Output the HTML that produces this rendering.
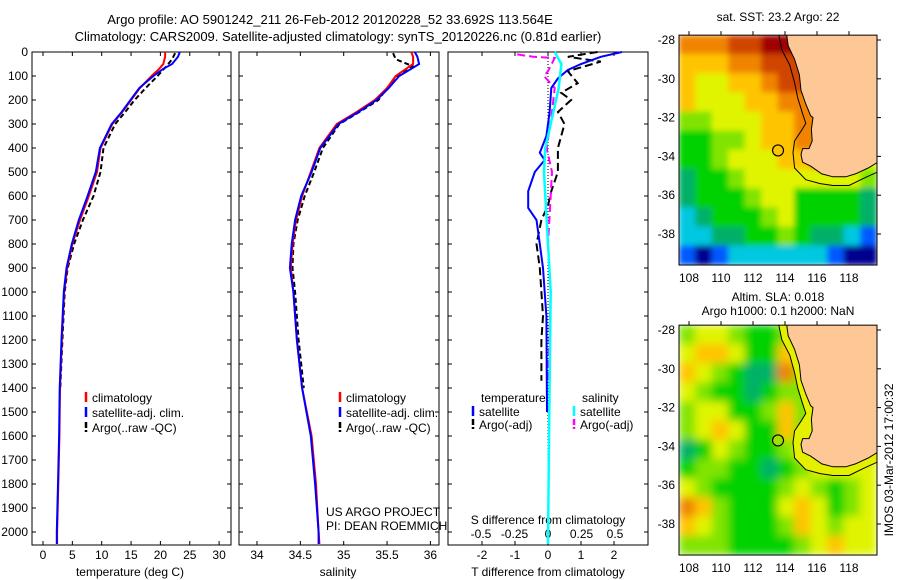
<!DOCTYPE html>
<html><head><meta charset="utf-8"><style>
html,body{margin:0;padding:0;background:#fff;}
svg{display:block;font-family:"Liberation Sans",sans-serif;}
text{font-size:12px;fill:#000;}
</style></head><body>
<svg id="fig" width="900" height="580" viewBox="0 0 900 580" xmlns="http://www.w3.org/2000/svg">
<text x="330" y="24" text-anchor="middle" style="font-size:13px">Argo profile: AO 5901242_211 26-Feb-2012 20120228_52 33.692S 113.564E</text>
<text x="338" y="41" text-anchor="middle" style="font-size:13px">Climatology: CARS2009. Satellite-adjusted climatology: synTS_20120226.nc (0.81d earlier)</text>
<text x="130" y="576" text-anchor="middle">temperature (deg C)</text>
<text x="338" y="576" text-anchor="middle">salinity</text>
<text x="548" y="576" text-anchor="middle">T difference from climatology</text>
<text x="548" y="524" text-anchor="middle">S difference from climatology</text>
<text x="326" y="516">US ARGO PROJECT</text>
<text x="326" y="530">PI: DEAN ROEMMICH</text>
<text x="778" y="21" text-anchor="middle">sat. SST: 23.2 Argo: 22</text>
<text x="778" y="301" text-anchor="middle">Altim. SLA: 0.018</text>
<text x="778" y="315" text-anchor="middle">Argo h1000: 0.1 h2000: NaN</text>
<text transform="translate(893,460) rotate(-90)" text-anchor="middle">IMOS 03-Mar-2012 17:00:32</text>
</svg>
<script>
// ---------- data ----------
const depthClim = [0,20,50,70,100,150,200,250,300,400,500,600,700,800,900,1000,1200,1400,1600,1800,2000,2050];
const tempClim  = [20.8,20.8,20.5,19.8,18.5,16.5,15,13.5,11.8,9.8,9.2,7.8,6.3,5.0,4.1,3.6,3.2,2.9,2.8,2.6,2.4,2.4];
const tempSat   = [23.3,23,22,20.5,18.8,16.4,14.9,13.4,11.7,9.7,9.0,7.6,6.1,4.9,4.0,3.55,3.15,2.85,2.75,2.55,2.35,2.35];
const salClim   = [35.78,35.8,35.8,35.72,35.6,35.5,35.36,35.15,34.92,34.72,34.62,34.52,34.45,34.41,34.39,34.42,34.46,34.52,34.63,34.68,34.71,34.72];
const salSat    = [35.82,35.85,35.87,35.78,35.64,35.52,35.38,35.17,34.94,34.73,34.63,34.51,34.44,34.40,34.38,34.42,34.46,34.52,34.62,34.67,34.71,34.71];
const depthArgo = [5,30,60,100,150,200,250,300,400,500,600,700,800,900,1000,1200,1400];
const tempArgo  = [22.5,22,21,19.5,17.5,15.6,14,12.3,10.3,9.8,8.6,6.8,5.3,4.2,3.7,3.3,2.95];
const salArgo   = [35.57,35.6,35.8,35.62,35.5,35.4,35.18,34.95,34.76,34.66,34.55,34.47,34.42,34.41,34.44,34.48,34.54];
const depthDT   = [0,20,50,75,110,150,250,350,420,450,500,580,650,700,800,900,1100,1500];
const dTsat     = [2.24,1.6,1.0,0.6,0.3,0.1,0.05,-0.05,-0.25,-0.1,-0.4,-0.6,-0.6,-0.35,-0.25,-0.15,-0.05,-0.03];
const depthDA   = [0,20,40,80,130,170,200,250,300,400,500,580,640,700,800,900,1000,1100,1200,1300,1370];
const dTargo    = [1.5,0.6,1.6,0.6,0.9,0.4,0.7,0.3,0.5,0.3,0.3,0.1,0.0,-0.2,-0.35,-0.25,-0.2,-0.15,-0.2,-0.2,-0.2];
const depthDS   = [0,50,150,300,400,500,600,800,1000,1500,2050];
const dSsat     = [0.05,0.1,0.08,0.02,-0.02,-0.03,-0.02,0,0.02,0.01,0];
const depthDSA  = [10,20,25,80,100,150,250,400,500,600,800,1000,1200,1370];
const dSargo    = [-0.23,-0.11,0.05,0.0,-0.03,0.05,0.03,-0.01,0.03,0.02,0.0,0.02,0.01,0.0];
const depthTicks = [0,100,200,300,400,500,600,700,800,900,1000,1100,1200,1300,1400,1500,1600,1700,1800,1900,2000];
const tempTicks = [0,5,10,15,20,25,30];
const salTicks = [34,34.5,35,35.5,36];
const salTickLabels = ['34','34.5','35','35.5','36'];
const dTTicks = [-2,-1,0,1,2];
const dSTicks = [-0.5,-0.25,0,0.25,0.5];
const dSTickLabels = ['-0.5','-0.25','0','0.25','0.5'];
const mapLatTicks = [-28,-30,-32,-34,-36,-38];
const mapLonTicks = [108,110,112,114,116,118];
const sstGrid = [
 [8,8,8,9,9,10,10,9,9,9,9,9],
 [7,7,7,8,8,9,9,9,9,9,9,9],
 [7,6,6,7,7,8,9,9,9,9,9,9],
 [7,6,6,6,7,7,8,8,8,8,8,8],
 [5,5,6,6,6,7,7,8,8,8,8,8],
 [4,4,5,5,6,7,7,8,8,8,8,8],
 [4,4,5,6,6,6,7,7,8,6,6,6],
 [3,4,4,5,6,6,6,6,6,6,6,5],
 [3,4,4,4,5,6,6,4,4,4,4,3],
 [2,3,4,4,4,5,6,4,4,4,4,3],
 [2,2,3,3,4,4,5,4,3,3,2,1],
 [1,0,1,2,2,2,2,2,2,1,0,0]];
const slaGrid = [
 [5,6,6,5,4,4,5,6,6,6,6,6],
 [6,7,7,6,4,4,7,6,6,6,6,6],
 [7,6,5,4,3,3,8,5,6,6,6,6],
 [6,5,4,4,3,4,5,5,6,6,6,6],
 [5,6,6,4,4,5,7,5,6,6,6,6],
 [5,6,7,6,4,4,7,5,6,6,6,6],
 [3,4,6,5,4,4,5,6,6,6,6,6],
 [4,5,5,4,4,3,4,5,6,6,6,6],
 [6,5,4,4,4,4,5,6,5,4,5,6],
 [8,7,5,4,4,4,6,7,6,4,5,6],
 [7,6,5,4,4,4,5,7,6,5,6,6],
 [5,5,5,4,4,4,4,5,6,7,6,6]];
const coastLon = [114.1,114.2,114.6,114.9,115.0,115.3,115.6,115.75,115.65,115.7,115.5,115.1,115.0,115.1,115.6,116.3,117,117.8,118.4,119.2,119.8,119.8];
const coastLat = [-27.7,-28.3,-29,-29.8,-30.6,-31.3,-31.9,-32.0,-32.6,-33.2,-33.6,-33.6,-33.9,-34.3,-34.5,-34.9,-35.05,-35.05,-34.9,-34.6,-34.3,-27.7];
const isoLon = [113.6,113.8,114.3,114.6,114.8,115.1,115.3,115.0,114.6,114.5,114.6,115.3,116.2,117,118,119,119.8];
const isoLat = [-27.7,-28.5,-29.3,-30.2,-31.0,-31.8,-32.3,-32.7,-33.2,-33.8,-34.6,-35.2,-35.4,-35.5,-35.5,-35.1,-34.8];
const argoLon = 113.564, argoLat = -33.692;

// ---------- scales ----------
const yD = d => 52 + d*0.24;
const xT = t => 43 + t*5.87;
const xS = s => 257 + (s-34)*86.7;
const xdT = v => 548 + v*33;
const xdS = v => 548 + v*134;
const mx = lon => 689 + (lon-108)*16;
const myA = lat => 40 + (-28-lat)*19.4;
const myB = lat => 330 + (-28-lat)*19.4;
const cmap = ['#000090','#0058ff','#00c8e0','#00b068','#00d200','#80e400','#e0f400','#ffc400','#f08400','#d04400','#a00000'];

const NS = 'http://www.w3.org/2000/svg';
const svg = document.getElementById('fig');
function mk(tag, attrs, parent){ const e=document.createElementNS(NS,tag); for(const k in attrs) e.setAttribute(k,attrs[k]); (parent||svg).appendChild(e); return e; }
function pts(xs, ys, fx, fy){ return xs.map((v,i)=>fx(v).toFixed(1)+','+fy(ys[i]).toFixed(1)).join(' '); }

// panels
const panels = [[32,231,'temperature-panel'],[239,439,'salinity-panel'],[448,648,'difference-panel']];
panels.forEach(p=>{
  const r = mk('rect',{x:p[0],y:52,width:p[1]-p[0],height:493,fill:'none',stroke:'#000','stroke-width':1});
  
  
  depthTicks.forEach(d=>{
    const l = mk('path',{d:`M${p[0]} ${yD(d)}h4M${p[1]} ${yD(d)}h-4`,stroke:'#000'});
    
    
  });
});
depthTicks.forEach(d=>{
  const t = mk('text',{x:28,y:yD(d)+4,'text-anchor':'end'}); t.textContent=d;
  
  
});
tempTicks.forEach(v=>{
  const t = mk('text',{x:xT(v),y:559,'text-anchor':'middle'}); t.textContent=v;
  
  
  const l = mk('path',{d:`M${xT(v)} 545v-4M${xT(v)} 52v4`,stroke:'#000'});
  
  
});
salTicks.forEach((v,i)=>{
  const t = mk('text',{x:xS(v),y:559,'text-anchor':'middle'}); t.textContent=salTickLabels[i];
  
  
  const l = mk('path',{d:`M${xS(v)} 545v-4M${xS(v)} 52v4`,stroke:'#000'});
  
  
});
dTTicks.forEach(v=>{
  const t = mk('text',{x:xdT(v),y:559,'text-anchor':'middle'}); t.textContent=v;
  
  
  const l = mk('path',{d:`M${xdT(v)} 545v-4M${xdT(v)} 52v4`,stroke:'#000'});
  
  
});
dSTicks.forEach((v,i)=>{
  const t = mk('text',{x:xdS(v),y:538,'text-anchor':'middle'}); t.textContent=dSTickLabels[i];
  
  
});
const zl = mk('line',{x1:xdT(0),x2:xdT(0),y1:52,y2:545,stroke:'#000','stroke-dasharray':'1,2'});



function line(xs,ys,fx,fy,color,dash,w){
  return mk('polyline',{points:pts(xs,ys,fx,fy),fill:'none',stroke:color,'stroke-width':w||2,'stroke-dasharray':dash||'none'});
}
let e;
e = line(tempArgo,depthArgo,xT,yD,'#000','5,3',2);


e = line(tempClim,depthClim,xT,yD,'#f00','',2);


e = line(tempSat,depthClim,xT,yD,'#00f','',2);


e = line(salArgo,depthArgo,xS,yD,'#000','5,3',2);


e = line(salClim,depthClim,xS,yD,'#f00','',2);


e = line(salSat,depthClim,xS,yD,'#00f','',2);


e = line(dTargo,depthDA,xdT,yD,'#000','8,4',2);


e = line(dSargo,depthDSA,xdS,yD,'#f0f','8,4',2);


e = line(dTsat,depthDT,xdT,yD,'#00f','',2);


e = line(dSsat,depthDS,xdS,yD,'#0ff','',2.5);



// legends
function legend(x,y,color,dash,label){
  const g = mk('g',{});
  mk('line',{x1:x,x2:x,y1:y-10,y2:y,stroke:color,'stroke-width':2.5,'stroke-dasharray':dash||'none'},g);
  const t = mk('text',{x:x+6,y:y},g); t.textContent=label;
  return g;
}
[[0,'#f00','','climatology'],[1,'#00f','','satellite-adj. clim.'],[2,'#000','6,2','Argo(..raw -QC)']].forEach(r=>{
  let g = legend(86,402+r[0]*15,r[1],r[2],r[3]);
  
  
  g = legend(340,402+r[0]*15,r[1],r[2],r[3]);
  
  
});
e = mk('text',{x:481,y:402}); e.textContent='temperature';


e = mk('text',{x:582,y:402}); e.textContent='salinity';


[[0,'#00f','#0ff','','satellite'],[1,'#000','#f0f','6,2','Argo(-adj)']].forEach(r=>{
  let g = legend(473,416+r[0]*13,r[1],r[3],r[4]);
  
  
  g = legend(574,416+r[0]*13,r[2],r[3],r[4]);
  
  
});

// maps
const defs = mk('defs',{});
const flt = mk('filter',{id:'blur',x:'-10%',y:'-10%',width:'120%',height:'120%'},defs);
mk('feGaussianBlur',{stdDeviation:4.5,edgeMode:'duplicate'},flt);
const flt2 = mk('filter',{id:'blur2',x:'-10%',y:'-10%',width:'120%',height:'120%'},defs);
mk('feGaussianBlur',{stdDeviation:3,edgeMode:'duplicate'},flt2);
function drawMap(grid,my,name,blurId,bandFill){
  const x0=679,x1=877,y0=my(-27.75),y1=my(-39.6);
  const cp = mk('clipPath',{id:'clip-'+name},defs);
  mk('rect',{x:x0,y:y0,width:x1-x0,height:y1-y0},cp);
  const outer = mk('g',{'clip-path':`url(#clip-${name})`});
  
  
  const g = mk('g',{filter:`url(#${blurId})`},outer);
  const cw=(x1-x0)/12, ch=(y1-y0)/12;
  grid.forEach((row,r)=>row.forEach((v,c)=>{
    const cell = mk('rect',{x:x0+c*cw-0.3,y:y0+r*ch-0.3,width:cw+0.6,height:ch+0.6,fill:cmap[v]},g);
    
    
  }));
  if(bandFill){
    const band = mk('polygon',{points:pts(isoLon.concat([119.8,119.8]),isoLat.concat([-34.3,-27.7]),mx,my),fill:bandFill},outer);
    
    
  }
  const land = mk('polygon',{points:pts(coastLon,coastLat,mx,my),fill:'#fdc896',stroke:'#000','stroke-width':1},outer);
  
  
  const iso = mk('polyline',{points:pts(isoLon,isoLat,mx,my),fill:'none',stroke:'#000','stroke-width':1},outer);
  
  
  const fr = mk('rect',{x:x0,y:y0,width:x1-x0,height:y1-y0,fill:'none',stroke:'#000'});
  
  
  const c = mk('circle',{cx:mx(argoLon),cy:my(argoLat),r:5.5,fill:bandFill?'#a0e000':'#ffc400',stroke:'#000','stroke-width':1.2});
  
  
  mapLatTicks.forEach(l=>{
    const t = mk('text',{x:675,y:my(l)+4,'text-anchor':'end'}); t.textContent=l;
    
    
    const tk = mk('path',{d:`M${x1} ${my(l)}h4`,stroke:'#000'});
    
    
  });
  mapLonTicks.forEach(l=>{
    const t = mk('text',{x:mx(l),y:y1+17,'text-anchor':'middle'}); t.textContent=l;
    
    
    const tk = mk('path',{d:`M${mx(l)} ${y0}v-4`,stroke:'#000'});
    
    
  });
}
drawMap(sstGrid,myA,'sst-map','blur2',null);
drawMap(slaGrid,myB,'sla-map','blur','#e4f000');
</script>
</body></html>
